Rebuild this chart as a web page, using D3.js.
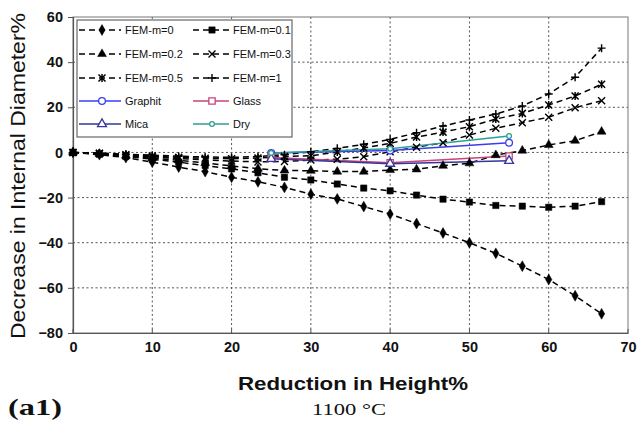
<!DOCTYPE html>
<html><head><meta charset="utf-8">
<script src="https://cdn.jsdelivr.net/npm/d3@7"></script>
<style>body{margin:0;background:#fff}svg{display:block}</style>
</head><body>
<svg id="c" width="642" height="423"></svg>
<script>
const xFEM = [0, 3.33, 6.67, 10, 13.33, 16.67, 20, 23.33, 26.67, 30, 33.33, 36.67, 40, 43.33, 46.67, 50, 53.33, 56.67, 60, 63.33, 66.67];
const fem0  = [0, -1, -2.3, -4.3, -6.5, -8.5, -11, -13, -15.5, -18.5, -20.6, -24, -27.3, -31.5, -35.7, -40, -44.7, -50.4, -56.3, -63.5, -71.5];
const fem01 = [0, -0.8, -1.8, -3, -4.3, -5.8, -7.3, -9, -11, -12.2, -14, -15.8, -17, -18.9, -20.7, -22, -23.5, -23.8, -24.3, -23.8, -21.8];
const fem02 = [0, -0.6, -1.4, -2.5, -3.5, -4.7, -6, -7.2, -8, -8.1, -8.5, -8.5, -7.8, -7.5, -5.9, -4.8, -1.2, 0.8, 3.3, 5.2, 9.2];
const fem03 = [0, -0.5, -1.2, -2, -2.7, -3.3, -3.8, -4.2, -4, -3.4, -3, -1.9, 0.3, 2.3, 4.3, 7.7, 10.7, 13.2, 15.6, 19.8, 22.9];
const fem05 = [0, -0.4, -1, -1.6, -2.2, -2.6, -2.8, -2.5, -1.8, -1.5, 0.2, 2, 4, 6.8, 9, 11.4, 14.8, 17.3, 21, 25, 30.2];
const fem1  = [0, -0.3, -0.8, -1.2, -1.7, -2, -2.2, -1.8, -1, 0.3, 1.8, 3.6, 5.8, 8.7, 11.7, 14.4, 17, 20.6, 25.9, 33.3, 46.2];
const xExp = [25, 40, 55];
const graphit = [-0.3, 0.8, 4.3];
const glass   = [-2.2, -4.6, -1.6];
const mica    = [-2.8, -5, -3.7];
const dry     = [-0.2, 1.6, 7.3];
const xTicks = [0, 10, 20, 30, 40, 50, 60, 70];
const yTicks = [60, 40, 20, 0, -20, -40, -60, -80];
const xTitle = "Reduction in Height%";
const yTitle = "Decrease in Internal Diameter%";
const panelLabel = "(a1)";
const tempLabel = "1100 °C";

const series = [
  {name:"FEM-m=0",   x:xFEM, y:fem0,  color:"#000", dash:"6,4", sym:"diamond", fill:true},
  {name:"FEM-m=0.1", x:xFEM, y:fem01, color:"#000", dash:"6,4", sym:"square", fill:true},
  {name:"FEM-m=0.2", x:xFEM, y:fem02, color:"#000", dash:"6,4", sym:"triangle", fill:true},
  {name:"FEM-m=0.3", x:xFEM, y:fem03, color:"#000", dash:"6,4", sym:"x", fill:false},
  {name:"FEM-m=0.5", x:xFEM, y:fem05, color:"#000", dash:"6,4", sym:"star", fill:false},
  {name:"FEM-m=1",   x:xFEM, y:fem1,  color:"#000", dash:"6,4", sym:"plus", fill:false},
  {name:"Graphit", x:xExp, y:graphit, color:"#3b3bf0", dash:null, sym:"circle", fill:false},
  {name:"Glass",   x:xExp, y:glass,   color:"#c8447a", dash:null, sym:"square", fill:false},
  {name:"Mica",    x:xExp, y:mica,    color:"#35359a", dash:null, sym:"triangle", fill:false},
  {name:"Dry",     x:xExp, y:dry,     color:"#2f9e94", dash:null, sym:"smallcircle", fill:false}
];

const FONT = "Liberation Sans, Arial, sans-serif";
const SERIF = "Liberation Serif, Times New Roman, serif";
const svg = d3.select("#c");
const L = 73, R = 628, T = 17, B = 333;
const x = d3.scaleLinear().domain([0, 70]).range([L, R]);
const y = d3.scaleLinear().domain([-80, 60]).range([B, T]);

// grid
const g = svg.append("g");
g.selectAll(".gx").data(xTicks.slice(1, -1)).enter().append("line")
  .attr("x1", d => x(d)).attr("x2", d => x(d)).attr("y1", T).attr("y2", B)
  .attr("stroke", "#555").attr("stroke-width", 1).attr("stroke-dasharray", "2,2.5");
g.selectAll(".gy").data(yTicks.slice(1, -1)).enter().append("line")
  .attr("x1", L).attr("x2", R).attr("y1", d => y(d)).attr("y2", d => y(d))
  .attr("stroke", "#555").attr("stroke-width", 1).attr("stroke-dasharray", "2,2.5");

// frame
svg.append("rect").attr("x", L).attr("y", T).attr("width", R - L).attr("height", B - T)
  .attr("fill", "none").attr("stroke", "#777").attr("stroke-width", 1);

// axes
const xAxis = d3.axisBottom(x).tickValues(xTicks).tickSize(0).tickPadding(9).tickFormat(d3.format("d"));
const yAxis = d3.axisLeft(y).tickValues(yTicks).tickSize(5).tickPadding(5).tickFormat(d3.format("d"));
const gx = svg.append("g").attr("transform", `translate(0,${B})`).call(xAxis);
const gy = svg.append("g").attr("transform", `translate(${L},0)`).call(yAxis);
[gx, gy].forEach(a => {
  a.select(".domain").attr("stroke", "#555").attr("stroke-width", 1.2);
  a.selectAll("text").attr("font-family", FONT)
    .attr("font-size", 14.5).attr("font-weight", "bold").attr("fill", "#111");
  a.selectAll(".tick line").attr("stroke", "#555");
});
// small inward ticks on x axis
svg.selectAll(".xt").data(xTicks).enter().append("line")
  .attr("x1", d => x(d)).attr("x2", d => x(d)).attr("y1", B - 4).attr("y2", B)
  .attr("stroke", "#555");

function sym(type, size) {
  const map = {diamond: d3.symbolDiamond, square: d3.symbolSquare, triangle: d3.symbolTriangle,
    circle: d3.symbolCircle, smallcircle: d3.symbolCircle};
  return d3.symbol().type(map[type]).size(size)();
}
function drawMarker(sel, s, px, py) {
  const gm = sel.append("g").attr("transform", `translate(${px},${py})`);
  const t = s.sym;
  if (t === "x") {
    gm.append("path").attr("d", "M-3.5,-3.5L3.5,3.5M-3.5,3.5L3.5,-3.5").attr("stroke", s.color).attr("stroke-width", 1.4);
  } else if (t === "plus") {
    gm.append("path").attr("d", "M-4,0L4,0M0,-4L0,4").attr("stroke", s.color).attr("stroke-width", 1.4);
  } else if (t === "star") {
    gm.append("path").attr("d", "M-3.5,-3.5L3.5,3.5M-3.5,3.5L3.5,-3.5M0,-4L0,4").attr("stroke", s.color).attr("stroke-width", 1.5);
  } else {
    let size = {diamond: 34, square: 40, triangle: 34, circle: 36, smallcircle: 18}[t];
    gm.append("path").attr("d", sym(t, size))
      .attr("fill", s.fill ? s.color : "#fff").attr("stroke", s.color).attr("stroke-width", s.fill ? 0.5 : 1.3);
  }
}

const line = d3.line().x(d => x(d[0])).y(d => y(d[1]));
const plot = svg.append("g");
series.forEach(s => {
  const pts = s.x.map((v, i) => [v, s.y[i]]);
  plot.append("path").datum(pts).attr("d", line).attr("fill", "none")
    .attr("stroke", s.color).attr("stroke-width", 1.5)
    .attr("stroke-dasharray", s.dash);
});
series.forEach(s => {
  s.x.forEach((v, i) => drawMarker(plot, s, x(v), y(s.y[i])));
});

// legend
const lg = svg.append("g");
lg.append("rect").attr("x", 77).attr("y", 20).attr("width", 215).attr("height", 117)
  .attr("fill", "#fff").attr("stroke", "#666").attr("stroke-width", 1.2);
const rowY = [30, 54, 78, 101, 124];
const cols = [{x1: 79, x2: 121, mx: 102, tx: 125}, {x1: 193, x2: 229, mx: 212, tx: 233}];
series.forEach((s, i) => {
  const c = cols[i % 2], ry = rowY[Math.floor(i / 2)];
  lg.append("line").attr("x1", c.x1).attr("x2", c.x2).attr("y1", ry).attr("y2", ry)
    .attr("stroke", s.color).attr("stroke-width", 1.5).attr("stroke-dasharray", s.dash);
  drawMarker(lg, s, c.mx, ry);
  lg.append("text").attr("x", c.tx).attr("y", ry + 4).text(s.name)
    .attr("font-family", FONT).attr("font-size", 11).attr("fill", "#111");
});

// titles
svg.append("text").attr("x", 353).attr("y", 390).attr("text-anchor", "middle").text(xTitle)
  .attr("font-family", FONT).attr("font-size", 19).attr("font-weight", "bold").attr("fill", "#111")
  .attr("textLength", 230).attr("lengthAdjust", "spacingAndGlyphs");
svg.append("text").attr("transform", "translate(25,176) rotate(-90)").attr("text-anchor", "middle").text(yTitle)
  .attr("font-family", FONT).attr("font-size", 20).attr("fill", "#111")
  .attr("textLength", 326).attr("lengthAdjust", "spacingAndGlyphs");
svg.append("text").attr("x", 8).attr("y", 415).text(panelLabel)
  .attr("font-family", SERIF).attr("font-size", 24).attr("font-weight", "bold").attr("fill", "#111")
  .attr("textLength", 54).attr("lengthAdjust", "spacingAndGlyphs");
svg.append("text").attr("x", 349).attr("y", 415).attr("text-anchor", "middle").text(tempLabel)
  .attr("font-family", SERIF).attr("font-size", 17).attr("fill", "#111")
  .attr("textLength", 74).attr("lengthAdjust", "spacingAndGlyphs");
</script>
</body></html>
